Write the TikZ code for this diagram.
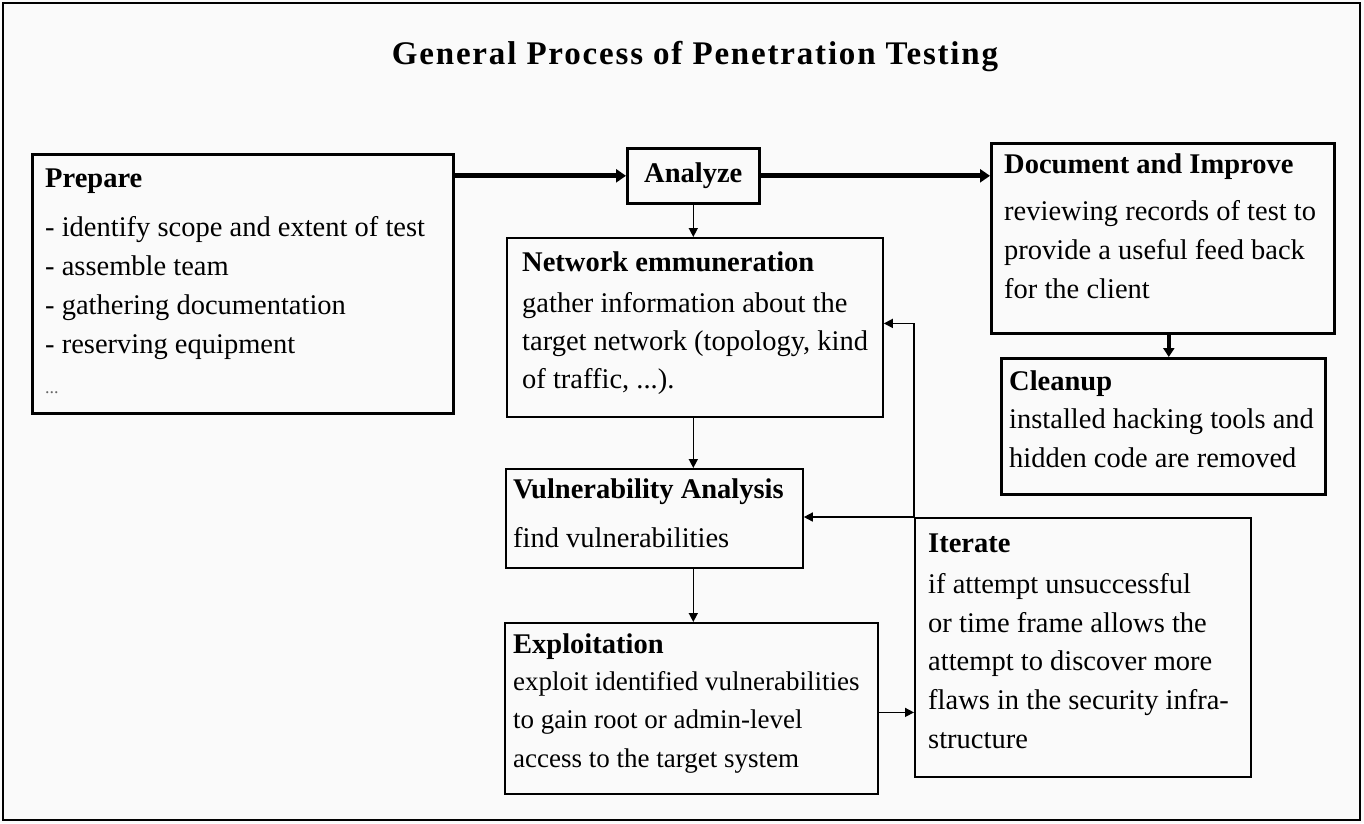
\documentclass[tikz,border=0pt]{standalone}
\usepackage{fontspec}
\setmainfont{Liberation Serif}
\newfontfamily\titlefont[LetterSpace=5.5]{Liberation Serif}
\usetikzlibrary{arrows.meta,calc}
\definecolor{bg}{RGB}{250,250,250}
\tikzset{
  boxthick/.style={draw=black, line width=2.6pt, inner sep=0pt, anchor=north west},
  boxthin/.style={draw=black, line width=1.8pt, inner sep=0pt, anchor=north west},
  ttl/.style={anchor=base west, inner sep=0pt, font=\fontsize{28.5}{33}\selectfont\bfseries},
  body/.style={anchor=north west, inner sep=0pt, align=left, font=\fontsize{28.5}{#1}\selectfont},
  bodysmall/.style={anchor=north west, inner sep=0pt, align=left, font=\fontsize{27}{#1}\selectfont},
  bigarrow/.style={line width=5pt, -{Triangle[length=10pt,width=13pt]}},
  smallarrow/.style={line width=1.5pt, -{Triangle[length=9pt,width=9pt]}},
}
\begin{document}
\begin{tikzpicture}[x=1pt,y=-1pt]
\useasboundingbox (0,0) rectangle (1364,823);
\fill[bg] (0,0) rectangle (1364,823);
\draw[line width=2.5pt] (3,3) rectangle (1360,820);

% title
\node[anchor=base, inner sep=0pt, font=\titlefont\fontsize{33}{36}\selectfont\bfseries] (title) at (695,64) {General Process of Penetration Testing};

% Prepare
\node[boxthick, minimum width=421pt, minimum height=259pt] (prep) at (31,153) {};
\node[ttl] (prepT) at (45,187) {Prepare};
\node[body=39.2] (prepB) at (45,{236-0.7*39.2}) {\strut - identify scope and extent of test\\\strut - assemble team\\\strut - gathering documentation\\\strut - reserving equipment\\\strut{\fontsize{18}{20}\selectfont\color{black!60}...}};

% Analyze
\node[boxthick, minimum width=132pt, minimum height=55pt, font=\fontsize{28.5}{33}\selectfont\bfseries] (ana) at (626,147) {Analyze};

% Document and Improve
\node[boxthick, minimum width=343pt, minimum height=190pt] (doc) at (990,142) {};
\node[ttl] (docT) at (1004,173) {Document and Improve};
\node[body=39] (docB) at (1004,{220-0.7*39}) {\strut reviewing records of test to\\\strut provide a useful feed back\\\strut for the client};

% Cleanup
\node[boxthick, minimum width=324pt, minimum height=136pt] (clean) at (1000,357) {};
\node[ttl] (cleanT) at (1009,390) {Cleanup};
\node[body=39] (cleanB) at (1009,{428-0.7*39}) {\strut installed hacking tools and\\\strut hidden code are removed};

% Network enumeration
\node[boxthin, minimum width=376pt, minimum height=179pt] (net) at (506,237) {};
\node[ttl] (netT) at (522,271) {Network emmuneration};
\node[body=38] (netB) at (522,{312-0.7*38}) {\strut gather information about the\\\strut target network (topology, kind\\\strut of traffic, ...).};

% Vulnerability Analysis
\node[boxthin, minimum width=297pt, minimum height=99pt] (vul) at (505,468) {};
\node[ttl] (vulT) at (513,498) {Vulnerability Analysis};
\node[body=38] (vulB) at (513,{547-0.7*38}) {\strut find vulnerabilities};

% Exploitation
\node[boxthin, minimum width=373pt, minimum height=171pt] (exp) at (504,622) {};
\node[ttl] (expT) at (513,653) {Exploitation};
\node[bodysmall=38.5] (expB) at (513,{690-0.7*38.5}) {\strut exploit identified vulnerabilities\\\strut to gain root or admin-level\\\strut access to the target system};

% Iterate
\node[boxthin, minimum width=336pt, minimum height=259pt] (it) at (914,517) {};
\node[ttl] (itT) at (928,552) {Iterate};
\node[body=38.8] (itB) at (928,{593-0.7*38.8}) {\strut if attempt unsuccessful\\\strut or time frame allows the\\\strut attempt to discover more\\\strut flaws in the security infra-\\\strut structure};

% connectors
\draw[bigarrow] (prep.east |- ana.west) -- (ana.west);
\draw[bigarrow] (ana.east) -- (ana.east -| doc.west);
\draw[line width=4pt, -{Triangle[length=9pt,width=11pt]}] ([xshift=6pt]doc.south) -- ([xshift=6pt]doc.south |- clean.north);
\draw[smallarrow] (ana.south) -- (ana.south |- net.north);
\draw[smallarrow] (ana.south |- net.south) -- (ana.south |- vul.north);
\draw[smallarrow] (ana.south |- vul.south) -- (ana.south |- exp.north);
\draw[smallarrow] ([yshift=-4pt]exp.east) -- ([yshift=-4pt]exp.east -| it.west);
\draw[smallarrow] (it.north west) -- (it.north west -| vul.east);
\draw[smallarrow] (it.north west) |- ([yshift=4pt]net.east);
\end{tikzpicture}
\end{document}
